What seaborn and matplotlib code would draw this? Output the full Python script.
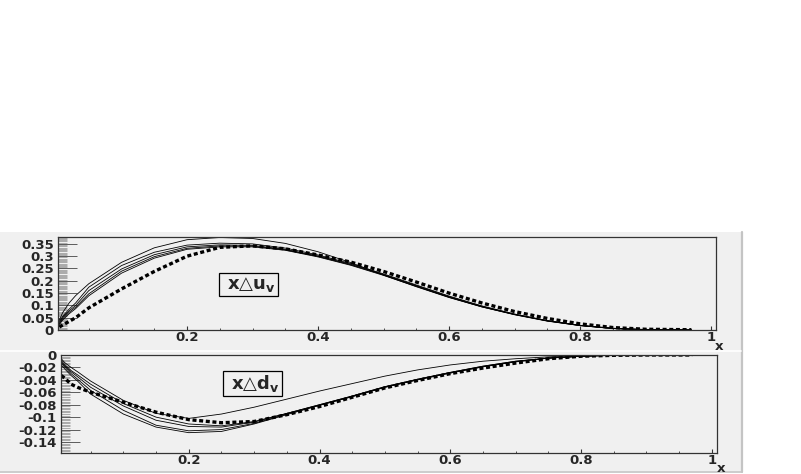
import matplotlib
matplotlib.use("Agg")
import matplotlib.pyplot as plt
import pandas as pd
import seaborn as sns
from matplotlib.patches import Rectangle
from matplotlib.lines import Line2D
from matplotlib.ticker import MultipleLocator, FuncFormatter

# x values the curves were read at
x_pts = [0.005, 0.01, 0.02, 0.03, 0.05, 0.1, 0.15, 0.2, 0.25, 0.3, 0.35, 0.4,
         0.45, 0.5, 0.55, 0.6, 0.65, 0.7, 0.75, 0.8, 0.85, 0.9, 0.97]

# x*Delta u_v : reference (thick dotted) and five fits (thin)
u_ref = [0.012, 0.02, 0.035, 0.05, 0.09, 0.167, 0.238, 0.30, 0.336, 0.342, 0.33, 0.305,
         0.276, 0.238, 0.195, 0.15, 0.11, 0.075, 0.047, 0.025, 0.01, 0.003, 0.001]
u_fit_a = [0.04, 0.07, 0.11, 0.14, 0.188, 0.275, 0.334, 0.367, 0.376, 0.372, 0.352, 0.318,
           0.274, 0.223, 0.176, 0.132, 0.094, 0.063, 0.037, 0.018, 0.006, 0.001, 0.0]
u_fit_b = [0.035, 0.055, 0.085, 0.11, 0.174, 0.262, 0.316, 0.345, 0.353, 0.35, 0.333, 0.305,
           0.27, 0.228, 0.183, 0.138, 0.098, 0.065, 0.038, 0.019, 0.007, 0.002, 0.0]
u_fit_c = [0.03, 0.05, 0.078, 0.10, 0.16, 0.248, 0.306, 0.338, 0.346, 0.344, 0.328, 0.301,
           0.267, 0.226, 0.181, 0.136, 0.097, 0.064, 0.038, 0.019, 0.007, 0.002, 0.0]
u_fit_d = [0.025, 0.045, 0.072, 0.093, 0.147, 0.239, 0.298, 0.332, 0.342, 0.341, 0.326, 0.299,
           0.265, 0.224, 0.179, 0.134, 0.095, 0.063, 0.037, 0.018, 0.006, 0.001, 0.0]
u_fit_e = [0.022, 0.04, 0.066, 0.087, 0.139, 0.231, 0.292, 0.328, 0.338, 0.338, 0.324, 0.297,
           0.263, 0.222, 0.177, 0.133, 0.094, 0.062, 0.036, 0.018, 0.006, 0.001, 0.0]

# x*Delta d_v
d_ref = [-0.033, -0.037, -0.047, -0.052, -0.06, -0.076, -0.092, -0.104, -0.109, -0.107, -0.096, -0.083,
         -0.068, -0.053, -0.041, -0.03, -0.021, -0.013, -0.006, -0.002, -0.0005, 0.0, 0.0]
d_fit_a = [-0.006, -0.012, -0.02, -0.027, -0.042, -0.073, -0.094, -0.102, -0.095, -0.084, -0.071, -0.058,
           -0.046, -0.034, -0.024, -0.016, -0.010, -0.006, -0.003, -0.001, 0.0, 0.0, 0.0]
d_fit_b = [-0.016, -0.022, -0.033, -0.042, -0.063, -0.095, -0.116, -0.125, -0.123, -0.111, -0.096, -0.081,
           -0.067, -0.052, -0.040, -0.029, -0.019, -0.011, -0.005, -0.002, -0.0005, 0.0, 0.0]
d_fit_c = [-0.013, -0.019, -0.030, -0.039, -0.057, -0.089, -0.113, -0.122, -0.120, -0.110, -0.095, -0.081,
           -0.067, -0.052, -0.040, -0.029, -0.019, -0.011, -0.005, -0.002, -0.0005, 0.0, 0.0]
d_fit_d = [-0.011, -0.017, -0.027, -0.035, -0.052, -0.082, -0.105, -0.115, -0.116, -0.108, -0.094, -0.080,
           -0.066, -0.051, -0.039, -0.028, -0.018, -0.010, -0.005, -0.002, -0.0005, 0.0, 0.0]
d_fit_e = [-0.009, -0.015, -0.025, -0.032, -0.047, -0.078, -0.100, -0.111, -0.114, -0.107, -0.094, -0.080,
           -0.066, -0.051, -0.039, -0.028, -0.018, -0.010, -0.005, -0.002, -0.0005, 0.0, 0.0]

panels = [
    (u_ref, [u_fit_a, u_fit_b, u_fit_c, u_fit_d, u_fit_e], " x\u25b3u$_{\\mathbf{v}}$ "),
    (d_ref, [d_fit_a, d_fit_b, d_fit_c, d_fit_d, d_fit_e], " x\u25b3d$_{\\mathbf{v}}$ "),
]

GREY = "#f0f0f0"

sns.set_style("white")
plt.rcParams["font.family"] = ["DejaVu Sans"]
plt.rcParams["font.weight"] = "bold"
plt.rcParams["mathtext.fontset"] = "dejavusans"
plt.rcParams["axes.unicode_minus"] = False

W, H = 801, 474
fig = plt.figure(figsize=(W / 100, H / 100), dpi=100)
fig.patch.set_facecolor("white")

# ROOT-like canvas: grey pads with thin borders (drawn below the axes)
fig.patches.append(Rectangle((0, 1 - 471 / H), 741 / W, (471 - 232) / H,
                             transform=fig.transFigure, fc=GREY, ec="none", zorder=-3))
fig.lines.append(Line2D([741.5 / W, 741.5 / W], [1 - 472 / H, 1 - 232 / H],
                        transform=fig.transFigure, color="#c4c4c4", lw=1.6, zorder=-2))
fig.lines.append(Line2D([0, 742 / W], [1 - 471.5 / H, 1 - 471.5 / H],
                        transform=fig.transFigure, color="#c4c4c4", lw=1.2, zorder=-2))
fig.lines.append(Line2D([0, 741 / W], [1 - 350.5 / H, 1 - 350.5 / H],
                        transform=fig.transFigure, color="white", lw=1.2, zorder=-2))

# axes boxes in pixels: left, top, right, bottom
boxes = [(58, 237, 716, 330), (61, 355, 717, 453)]
xlims = [(0.003, 1.0076), (0.0046, 1.008)]
ylims = [(0.0, 0.378), (-0.1577, 0.0)]
ymajor = [0.05, 0.02]
yminor = [0.005, 0.0025]
label_pos = [(0.294, 0.186), (0.2975, -0.046)]
# axis title "x" tucked under the last tick label, nudged right to keep clear of it
xlab_xy = [(719, 347), (721, 468)]

fmt = FuncFormatter(lambda v, p: f"{v:g}")

for i, (ref, fits, label) in enumerate(panels):
    l, t, r, b = boxes[i]
    ax = fig.add_axes([l / W, 1 - b / H, (r - l) / W, (b - t) / H])
    ax.set_facecolor(GREY)

    for fit in fits:
        sns.lineplot(x=x_pts, y=fit, ax=ax, color="black", linewidth=0.6,
                     estimator=None, sort=False)
    sns.lineplot(x=x_pts, y=ref, ax=ax, color="black", linewidth=2.4,
                 linestyle=(0, (1.2, 0.8)), estimator=None, sort=False)

    ax.set_xlim(*xlims[i])
    ax.set_ylim(*ylims[i])
    ax.set_xlabel("")
    ax.set_ylabel("")

    ax.xaxis.set_major_locator(MultipleLocator(0.2))
    ax.xaxis.set_minor_locator(MultipleLocator(0.05))
    ax.yaxis.set_major_locator(MultipleLocator(ymajor[i]))
    ax.yaxis.set_minor_locator(MultipleLocator(yminor[i]))
    ax.xaxis.set_major_formatter(fmt)
    ax.yaxis.set_major_formatter(fmt)

    ax.tick_params(which="both", left=True, bottom=True, top=False, right=False)
    ax.tick_params(axis="y", which="major", direction="in", length=13.5, width=0.6,
                   pad=3, labelsize=9.5, color="#444444")
    ax.tick_params(axis="y", which="minor", direction="in", length=6.5, width=0.4,
                   color="#777777")
    ax.tick_params(axis="x", which="major", direction="in", length=3, width=0.8,
                   pad=0.5, labelsize=9.5, color="#333333")
    ax.tick_params(axis="x", which="minor", direction="in", length=1.8, width=0.6,
                   color="#333333")
    for lab in ax.get_xticklabels() + ax.get_yticklabels():
        lab.set_fontweight("bold")

    for sp in ax.spines.values():
        sp.set_color("#333333")
        sp.set_linewidth(0.9)

    ax.text(label_pos[i][0], label_pos[i][1], label, ha="center", va="center",
            fontsize=13, fontweight="bold",
            bbox=dict(boxstyle="square,pad=0.1", fc=GREY, ec="black", lw=0.9))

    fig.text(xlab_xy[i][0] / W, 1 - xlab_xy[i][1] / H, "x", ha="center", va="center",
             fontsize=9.5, fontweight="bold")

fig.savefig("out.png", dpi=100, facecolor="white")
